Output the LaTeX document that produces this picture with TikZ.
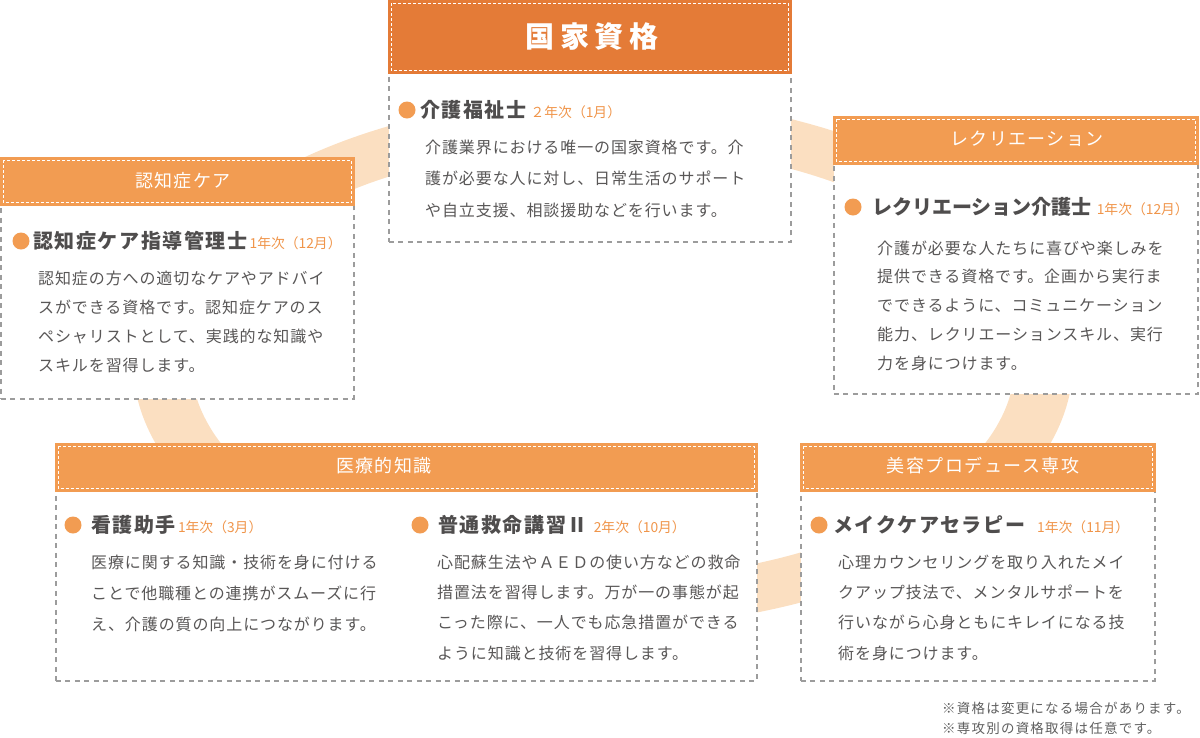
\documentclass[tikz,border=0pt]{standalone}
\usepackage{fontspec}
\setmainfont{Noto Sans CJK JP}
\newfontfamily\jpbody[LetterSpace=5.6]{Noto Sans CJK JP}
\newfontfamily\jpttl[LetterSpace=8]{Noto Sans CJK JP}
\newfontfamily\jpttlb{Noto Sans CJK JP}
\newfontfamily\jphdr[LetterSpace=8]{Noto Sans CJK JP}
\newfontfamily\jpbig[LetterSpace=20]{Noto Sans CJK JP}
\newfontfamily\jpnote[LetterSpace=9]{Noto Sans CJK JP}
\newfontfamily\jpyr{Noto Sans CJK JP}
\definecolor{ringc}{HTML}{FBDFC1}
\definecolor{hdrc}{HTML}{F29C52}
\definecolor{hdrdark}{HTML}{E47B37}
\definecolor{dotc}{HTML}{F29C52}
\definecolor{yrc}{HTML}{F0954A}
\definecolor{txtc}{HTML}{595757}
\definecolor{ttlc}{HTML}{4F4D4D}
\definecolor{dashc}{HTML}{9C9C9C}
\definecolor{notec}{HTML}{5F5F5F}
\tikzset{
  bodybox/.style={draw=dashc, line width=1.5pt, dash pattern=on 5pt off 4.5pt, fill=white, anchor=north west, inner sep=0pt},
  hdrbox/.style={line width=1.5pt, anchor=north west, inner sep=0pt},
  hdrin/.style={draw=white, line width=0.7pt, dash pattern=on 3pt off 2pt},
  hdrtxt/.style={inner sep=0pt, text=white, font=\jphdr\fontsize{18}{18}\selectfont},
  bodytxt/.style={anchor=west, inner sep=0pt, text=txtc, font=\jpbody\fontsize{16}{16}\selectfont},
  ttl/.style={anchor=west, inner sep=0pt, text=ttlc, font=\jpttl\bfseries\fontsize{20}{20}\selectfont},
  ttlb/.style={anchor=west, inner sep=0pt, text=ttlc, font=\jpttlb\bfseries\fontsize{20}{20}\selectfont},
  dot/.style={circle, fill=dotc, inner sep=0pt, minimum size=17pt},
  notetxt/.style={anchor=west, inner sep=0pt, text=notec, font=\jpnote\fontsize{13.5}{13.5}\selectfont}
}
\newcommand\yrtxt[1]{{\jpyr\mdseries\fontsize{13.8}{13.8}\selectfont\color{yrc}#1}}
% name, x, y, width, header height, total height, header colour
\newcommand\mkbox[7]{%
  \node[bodybox, minimum width=#4pt, minimum height=#6pt] (#1) at (#2,#3) {};
  \node[hdrbox, fill=#7, draw=#7, minimum width=#4pt, minimum height=#5pt] (#1h) at (#2,#3) {};
  \draw[hdrin] ([xshift=3pt,yshift=-3pt]#1h.north west) rectangle ([xshift=-3pt,yshift=3pt]#1h.south east);
}
% name prefix, x, first y, step, lines
\newcommand\mylines[5]{%
  \foreach \t [count=\i] in {#5} {\node[bodytxt] (#1\i) at (#2,{#3+#4*(\i-1)}) {\t};}
}
\begin{document}
\begin{tikzpicture}[x=1pt,y=-1pt]
\useasboundingbox (0,0) rectangle (1200,737);
% background ring
\fill[ringc, even odd rule] (603,362) ellipse [x radius=470pt, y radius=265pt]
  (603,362) ellipse [x radius=412pt, y radius=217pt];

% 国家資格
\mkbox{kk}{388}{0}{402}{72}{241}{hdrdark}
\node[inner sep=0pt, text=white, font=\jpbig\bfseries\fontsize{29}{29}\selectfont] (kkt) at (592,37) {国家資格};
\node[dot] (kkd) at (407,110) {};
\node[ttl] (kkn) at (420,110) {介護福祉士\hspace{4pt}\yrtxt{２年次（1月）}};
\mylines{kkl}{425}{147}{31.5}{介護業界における唯一の国家資格です。介,護が必要な人に対し、日常生活のサポート,や自立支援、相談援助などを行います。}

% 認知症ケア
\mkbox{nc}{0}{157}{353}{47}{241}{hdrc}
\node[hdrtxt] (nct) at (183,181) {認知症ケア};
\node[dot] (ncd) at (21,241) {};
\node[ttl] (ncn) at (33,241) {認知症ケア指導管理士\hspace{2pt}\yrtxt{1年次（12月）}};
\mylines{ncl}{38}{278}{29}{認知症の方への適切なケアやアドバイ,スができる資格です。認知症ケアのス,ペシャリストとして、実践的な知識や,スキルを習得します。}

% レクリエーション
\mkbox{rc}{833}{116}{364}{47}{277}{hdrc}
\node[hdrtxt] (rct) at (1027,139) {レクリエーション};
\node[dot] (rcd) at (853,207) {};
\node[ttlb] (rcn) at (872,207) {レクリエーション介護士\hspace{5pt}\yrtxt{1年次（12月）}};
\mylines{rcl}{877}{248}{28.8}{介護が必要な人たちに喜びや楽しみを,提供できる資格です。企画から実行ま,でできるように、コミュニケーション,能力、レクリエーションスキル、実行,力を身につけます。}

% 医療的知識
\mkbox{ir}{55}{443}{701}{47}{237}{hdrc}
\node[hdrtxt] (irt) at (384,466) {医療的知識};
\node[dot] (ird1) at (73,525) {};
\node[ttl] (irn1) at (91,525) {看護助手\hspace{2pt}\yrtxt{1年次（3月）}};
\mylines{ira}{91}{562}{31.3}{医療に関する知識・技術を身に付ける,ことで他職種との連携がスムーズに行,え、介護の質の向上につながります。}
\node[dot] (ird2) at (420,525) {};
\node[ttl] (irn2) at (438,525) {普通救命講習Ⅱ\hspace{6pt}\yrtxt{2年次（10月）}};
\mylines{irb}{437}{562}{30.4}{心配蘇生法やＡＥＤの使い方などの救命,措置法を習得します。万が一の事態が起,こった際に、一人でも応急措置ができる,ように知識と技術を習得します。}

% 美容プロデュース専攻
\mkbox{by}{800}{443}{354}{47}{237}{hdrc}
\node[hdrtxt] (byt) at (983,466) {美容プロデュース専攻};
\node[dot] (byd) at (819,525) {};
\node[ttl] (byn) at (833,525) {メイクケアセラピー\hspace{12pt}\yrtxt{1年次（11月）}};
\mylines{byl}{838}{562}{30.3}{心理カウンセリングを取り入れたメイ,クアップ技法で、メンタルサポートを,行いながら心身ともにキレイになる技,術を身につけます。}

% notes
\node[notetxt] (n1) at (942,708) {※資格は変更になる場合があります。};
\node[notetxt] (n2) at (942,728) {※専攻別の資格取得は任意です。};
\end{tikzpicture}
\end{document}
